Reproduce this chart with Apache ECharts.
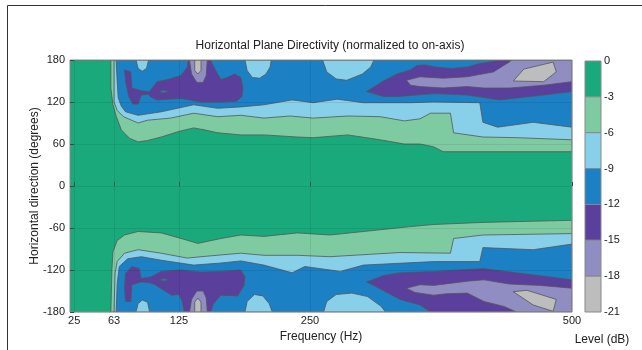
<!DOCTYPE html>
<html>
<head>
<meta charset="utf-8">
<script src="https://cdn.jsdelivr.net/npm/echarts@6/dist/echarts.min.js"></script>
<style>
  html, body { margin: 0; padding: 0; background: #fff; }
  #main { width: 642px; height: 350px; }
</style>
</head>
<body>
<div id="main"></div>
<script>
var freqTicks = [25, 63, 125, 250, 500];
var levelTicks = [0, -3, -6, -9, -12, -15, -18, -21];
var bandColors = ['#1aa97a', '#7ecba1', '#88cfe9', '#1b80c4', '#5b3f9c', '#8f8dc2', '#bdbdbd'];

// contour regions, [frequency Hz, angle deg]
var plotArea = [[21, 180], [500, 180], [500, -180], [21, -180]];

var band1Upper = [[60, 180], [60, 140], [62, 116], [65, 100], [70, 80], [78, 68], [86, 63], [95, 65], [108, 70], [125, 78], [139, 83], [150, 80], [162, 76], [184, 73], [206, 73], [238, 70], [253, 69], [286, 73], [317, 66], [340, 60], [355, 60], [368, 56], [377, 49], [432, 49], [500, 49], [500, 180]];
var band1Lower = [[60, -180], [61, -120], [62, -94], [66, -78], [73, -70], [86, -65], [108, -67], [127, -75], [143, -82], [165, -75], [184, -70], [206, -72], [238, -67], [269, -70], [301, -65], [346, -58], [368, -55], [415, -52], [500, -49], [500, -180]];

var band2Upper = [[63, 180], [63, 120], [66, 108], [72, 99], [86, 90], [95, 94], [117, 97], [139, 104], [162, 99], [184, 101], [206, 97], [231, 100], [253, 97], [286, 100], [317, 99], [340, 93], [355, 96], [365, 104], [384, 104], [387, 76], [415, 70], [448, 69], [500, 66], [500, 180]];
var band2Lower = [[63, -180], [64, -125], [66, -108], [73, -96], [86, -91], [108, -96], [133, -103], [146, -101], [184, -96], [206, -99], [238, -99], [269, -101], [336, -95], [384, -96], [387, -75], [415, -70], [500, -68], [500, -180]];

var band3Upper = [[65, 180], [66, 150], [67, 126], [70, 114], [74, 106], [86, 101], [108, 106], [139, 116], [162, 111], [184, 113], [206, 116], [233, 123], [253, 119], [276, 124], [301, 119], [346, 119], [368, 120], [412, 119], [415, 91], [429, 84], [463, 91], [500, 84], [500, 180]];
var band3Lower = [[65, -180], [66, -140], [68, -115], [76, -104], [89, -101], [108, -106], [139, -113], [165, -110], [184, -107], [206, -113], [233, -124], [245, -115], [279, -122], [301, -113], [340, -110], [368, -108], [412, -108], [415, -88], [431, -89], [463, -91], [500, -83], [500, -180]];

var islandA = [[84, 180], [86, 168], [90, 164], [94, 168], [96, 180]];
var islandB = [[188, 180], [190, 165], [195, 155], [202, 154], [208, 160], [212, 170], [213, 180]];
var islandC = [[262, 180], [266, 163], [275, 153], [285, 151], [300, 160], [308, 170], [311, 180]];
var islandD = [[84, -180], [86, -168], [90, -163], [95, -166], [97, -180]];
var islandE = [[188, -180], [190, -165], [197, -155], [205, -157], [211, -168], [214, -180]];
var islandF = [[263, -180], [266, -165], [275, -155], [290, -153], [305, -158], [318, -172], [322, -180]];

var purpleUpperLeft = [[73, 166], [79, 163], [80, 140], [89, 136], [97, 135], [100, 141], [104, 149], [114, 152], [127, 158], [133, 170], [134, 180], [155, 180], [160, 165], [165, 152], [171, 155], [178, 160], [184, 155], [186, 140], [185, 128], [180, 121], [165, 120], [146, 120], [127, 125], [104, 123], [98, 127], [96, 131], [89, 130], [86, 117], [81, 117], [77, 128], [74, 150]];
var purpleUpperRight = [[304, 135], [320, 150], [333, 160], [346, 166], [352, 172], [360, 173], [370, 170], [385, 168], [400, 170], [412, 175], [425, 178], [430, 180], [500, 180], [500, 135], [473, 130], [431, 123], [400, 130], [368, 132], [336, 128], [320, 128]];
var purpleLowerLeft = [[74, -165], [73, -145], [74, -125], [80, -115], [87, -118], [89, -132], [98, -130], [108, -122], [127, -120], [146, -123], [165, -122], [184, -120], [188, -130], [187, -142], [181, -157], [165, -156], [158, -168], [155, -180], [130, -180], [128, -165], [125, -155], [118, -156], [102, -141], [97, -138], [89, -137], [80, -141], [79, -165]];
var purpleLowerRight = [[304, -137], [320, -128], [336, -124], [368, -122], [415, -118], [447, -124], [500, -134], [500, -180], [365, -180], [355, -170], [336, -162], [322, -151], [312, -143]];

var dotUpper = [[106, 135], [110, 137], [115, 135], [110, 133]];
var dotLower = [[106, -134], [111, -132], [115, -134], [111, -136]];

var lavUpperLeft = [[135, 180], [137, 160], [142, 148], [148, 148], [151, 158], [152, 180]];
var lavLowerLeft = [[135, -180], [137, -162], [142, -150], [148, -150], [151, -160], [152, -180]];
var lavUpperRight = [[342, 151], [355, 156], [377, 154], [400, 156], [425, 163], [441, 178], [442, 180], [500, 180], [500, 149], [473, 144], [441, 140], [416, 140], [400, 142], [377, 140], [355, 142], [346, 144]];
var lavLowerRight = [[342, -146], [355, -141], [368, -142], [400, -136], [416, -134], [440, -140], [470, -142], [500, -146], [500, -180], [447, -180], [435, -172], [416, -165], [400, -153], [380, -154], [368, -156], [350, -152]];

var grayUpperLeft = [[140, 180], [140, 165], [143, 160], [146, 165], [146, 180]];
var grayLowerLeft = [[140, -180], [140, -166], [143, -160], [146, -166], [146, -180]];
var grayUpperRight = [[444, 150], [454, 167], [482, 177], [485, 163], [473, 149]];
var grayLowerRight = [[444, -151], [457, -149], [485, -162], [482, -179], [463, -170]];

// [band index, region] in drawing order
var shapes = [
    [0, plotArea],
    [1, band1Upper], [1, band1Lower],
    [2, band2Upper], [2, band2Lower],
    [3, band3Upper], [3, band3Lower],
    [2, islandA], [2, islandB], [2, islandC], [2, islandD], [2, islandE], [2, islandF],
    [4, purpleUpperLeft], [4, purpleUpperRight], [4, purpleLowerLeft], [4, purpleLowerRight],
    [3, dotUpper], [3, dotLower],
    [5, lavUpperLeft], [5, lavLowerLeft], [5, lavUpperRight], [5, lavLowerRight],
    [6, grayUpperLeft], [6, grayLowerLeft], [6, grayUpperRight], [6, grayLowerRight]
];

var font = 'Liberation Sans, Arial, sans-serif';
var myChart = echarts.init(document.getElementById('main'));

option = {
    animation: false,
    backgroundColor: '#fff',
    textStyle: { fontFamily: font },
    graphic: [{
            type: 'rect',
            shape: { x: 7.5, y: 5.5, width: 700, height: 400 },
            style: { fill: 'none', stroke: '#333', lineWidth: 1 },
            silent: true
        },
        {
            type: 'text',
            x: 330,
            y: 46,
            style: {
                text: 'Horizontal Plane Directivity (normalized to on-axis)',
                fill: '#222',
                font: '12px ' + font,
                textAlign: 'center',
                textVerticalAlign: 'middle'
            }
        },
        {
            type: 'text',
            x: 602,
            y: 340,
            style: {
                text: 'Level (dB)',
                fill: '#222',
                font: '12px ' + font,
                textAlign: 'center',
                textVerticalAlign: 'middle'
            }
        }
    ],
    grid: [{
            left: 70,
            right: 70,
            top: 60,
            bottom: 38,
            show: true,
            z: 3,
            backgroundColor: 'transparent',
            borderColor: '#8a8a8a',
            borderWidth: 1
        },
        {
            left: 585,
            top: 61,
            width: 16,
            height: 251
        }
    ],
    xAxis: [{
            type: 'value',
            gridIndex: 0,
            min: 21,
            max: 500,
            z: 3,
            name: 'Frequency (Hz)',
            nameLocation: 'middle',
            nameGap: 14,
            nameTextStyle: { fontSize: 12, color: '#222' },
            axisLine: { show: false },
            axisTick: {
                inside: true,
                length: 4,
                customValues: freqTicks,
                lineStyle: { color: '#444' }
            },
            axisLabel: {
                customValues: freqTicks,
                fontSize: 11,
                color: '#222',
                margin: 3
            },
            splitLine: {
                show: true,
                lineStyle: { color: 'rgba(0,0,0,0.08)', width: 1 }
            }
        },
        {
            type: 'value',
            gridIndex: 1,
            min: 0,
            max: 1,
            show: false
        }
    ],
    yAxis: [{
            type: 'value',
            gridIndex: 0,
            min: -180,
            max: 180,
            interval: 60,
            z: 3,
            name: 'Horizontal direction (degrees)',
            nameLocation: 'middle',
            nameGap: 29,
            nameMoveOverlap: false,
            nameTextStyle: { fontSize: 12, color: '#222' },
            axisLine: { show: false },
            axisTick: { inside: true, length: 4, lineStyle: { color: '#444' } },
            axisLabel: { fontSize: 11, color: '#222', margin: 5 },
            splitLine: {
                show: true,
                lineStyle: { color: 'rgba(0,0,0,0.08)', width: 1 }
            }
        },
        {
            type: 'value',
            gridIndex: 1,
            position: 'right',
            min: -21,
            max: 0,
            interval: 3,
            axisLine: { show: false },
            axisTick: { show: false },
            splitLine: { show: false },
            axisLabel: { fontSize: 11, color: '#222', margin: 3 }
        }
    ],
    series: [{
            type: 'custom',
            xAxisIndex: 0,
            yAxisIndex: 0,
            clip: true,
            silent: true,
            data: shapes.map(function (s, i) { return [i]; }),
            renderItem: function (params, api) {
                var s = shapes[params.dataIndex];
                var pts = s[1].map(function (p) { return api.coord(p); });
                return {
                    type: 'polygon',
                    shape: { points: pts },
                    style: {
                        fill: bandColors[s[0]],
                        stroke: s[1] === plotArea ? null : '#555',
                        lineWidth: 0.8
                    }
                };
            }
        },
        {
            type: 'custom',
            xAxisIndex: 1,
            yAxisIndex: 1,
            silent: true,
            data: bandColors.map(function (c, i) { return [i]; }),
            renderItem: function (params, api) {
                var i = params.dataIndex;
                var p0 = api.coord([0, levelTicks[i]]);
                var p1 = api.coord([1, levelTicks[i + 1]]);
                return {
                    type: 'rect',
                    shape: { x: p0[0], y: p0[1], width: p1[0] - p0[0], height: p1[1] - p0[1] },
                    style: { fill: bandColors[i], stroke: '#888', lineWidth: 1 }
                };
            }
        }
    ]
};

myChart.setOption(option);
</script>
</body>
</html>
